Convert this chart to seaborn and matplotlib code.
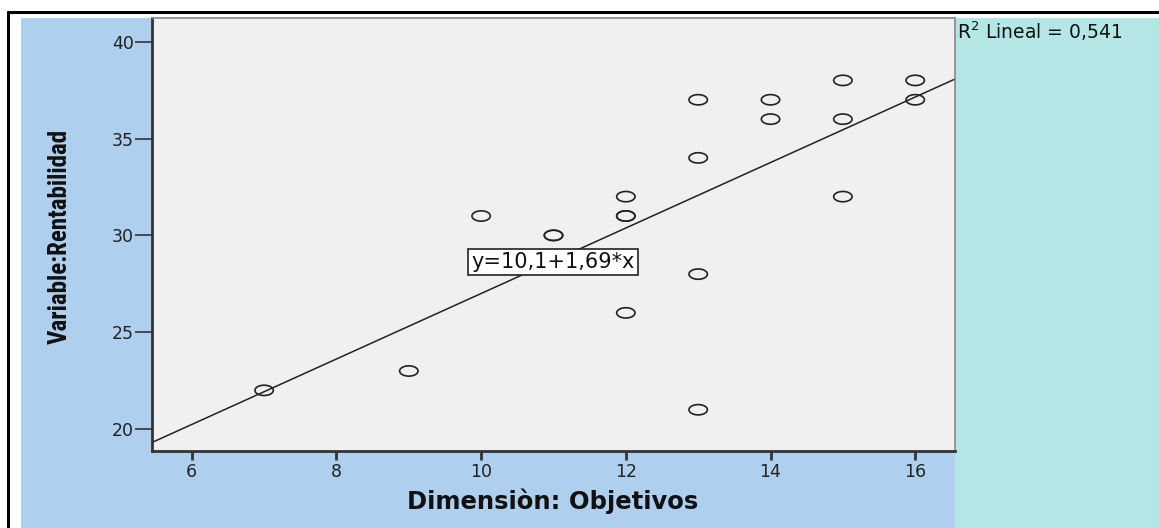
import numpy as np
import pandas as pd
import seaborn as sns
import matplotlib
matplotlib.use("Agg")
import matplotlib.pyplot as plt
from matplotlib import font_manager
from matplotlib.path import Path
from matplotlib.patches import Rectangle
from matplotlib.lines import Line2D

# Observations: Dimensiòn Objetivos vs Variable Rentabilidad
objetivos = [7, 9, 10, 11, 11, 12, 12, 12, 12, 13, 13, 13, 13, 14, 14, 15, 15, 15, 16, 16]
rentabilidad = [22, 23, 31, 30, 30, 32, 31, 31, 26, 37, 34, 28, 21, 37, 36, 38, 36, 32, 38, 37]

# Fitted linear model reported by the analysis
intercepto = 10.1
pendiente = 1.69
r2_lineal = "0,541"

x_ticks = [6, 8, 10, 12, 14, 16]
y_ticks = [20, 25, 30, 35, 40]

df = pd.DataFrame({"objetivos": objetivos, "rentabilidad": rentabilidad})

sns.set_theme(style="white")
plt.rcParams["font.family"] = ["DejaVu Sans"]

available = {f.name for f in font_manager.fontManager.ttflist}
narrow = next((n for n in ["Liberation Sans Narrow", "Roboto Condensed", "Open Sans Condensed",
                           "Liberation Sans"] if n in available), "DejaVu Sans")

W, H = 1159, 528
fig = plt.figure(figsize=(W / 100, H / 100), dpi=100, facecolor="white")

def fx(px):
    return px / W

def fy(py):
    return 1 - py / H

# Panel backgrounds
fig.patches.append(Rectangle((fx(21), fy(528)), fx(955) - fx(21), fy(18) - fy(528),
                             transform=fig.transFigure, facecolor="#aed0ee", edgecolor="none", zorder=-10))
fig.patches.append(Rectangle((fx(955), fy(528)), fx(1159) - fx(955), fy(18) - fy(528),
                             transform=fig.transFigure, facecolor="#b4e6e6", edgecolor="none", zorder=-10))
# Frame lines
fig.lines.append(Line2D([fx(8), fx(1159)], [fy(12), fy(12)], transform=fig.transFigure, color="black", lw=2.2))
fig.lines.append(Line2D([fx(8), fx(8)], [fy(12), fy(528)], transform=fig.transFigure, color="black", lw=2.2))

ax = fig.add_axes([fx(152), fy(451), fx(955) - fx(152), fy(18) - fy(451)])
ax.set_facecolor("#f0f0f0")

# Elliptical open marker
t = np.linspace(0, 2 * np.pi, 60)
ellipse = Path(np.column_stack([np.cos(t), 0.56 * np.sin(t)]), closed=True)

sns.scatterplot(data=df, x="objetivos", y="rentabilidad", ax=ax, marker=ellipse,
                s=175, facecolor="none", edgecolor="#222222", linewidth=1.2, zorder=3)

xlim = (5.45, 16.55)
ylim = (18.87, 41.22)
xs = np.array(xlim)
sns.lineplot(x=xs, y=intercepto + pendiente * xs, ax=ax, color="#222222", lw=1.1, zorder=2)

ax.set_xlim(*xlim)
ax.set_ylim(*ylim)
ax.set_xticks(x_ticks)
ax.set_yticks(y_ticks)
ax.set_xticklabels([str(v) for v in x_ticks], fontsize=12.5, color="#222222")
ax.set_yticklabels([str(v) for v in y_ticks], fontsize=12.5, color="#222222")
ax.tick_params(axis="x", direction="out", length=6.5, width=2, color="#333333", pad=2, bottom=True)
ax.tick_params(axis="y", direction="out", length=12, width=1.2, color="#333333", pad=1, left=True)

for side in ["left", "bottom"]:
    ax.spines[side].set_color("#333333")
    ax.spines[side].set_linewidth(2)
for side in ["top", "right"]:
    ax.spines[side].set_color("#888888")
    ax.spines[side].set_linewidth(1.2)

ax.set_xlabel("")
ax.set_ylabel("")
fig.text(fx(553), fy(501), "Dimensiòn: Objetivos", ha="center", va="center",
         fontsize=17.5, fontweight="bold", color="#111111")
fig.text(fx(60), fy(236), "Variable:Rentabilidad", ha="center", va="center", rotation=90,
         fontsize=18, fontweight="bold", color="#111111", family=[narrow, "DejaVu Sans"])

ax.text(10.99, 28.64, "y=10,1+1,69*x", ha="center", va="center", fontsize=15, color="#111111",
        bbox=dict(boxstyle="square,pad=0.15", facecolor="white", edgecolor="#222222", lw=1.2), zorder=4)

fig.text(fx(957), fy(31), "R$^2$ Lineal = " + r2_lineal, ha="left", va="center",
         fontsize=13.5, color="#111111")

fig.savefig("out.png", dpi=100, facecolor="white")
